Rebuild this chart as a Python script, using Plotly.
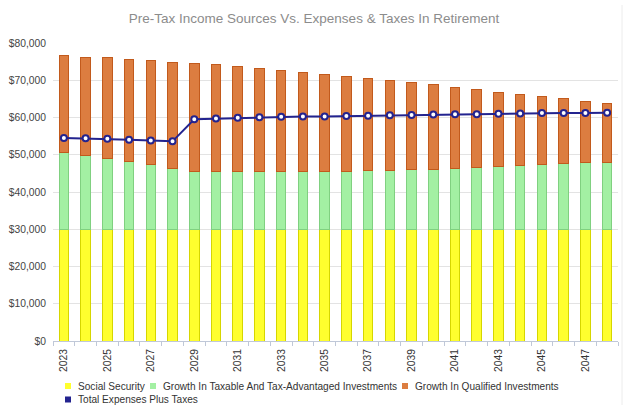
import plotly.graph_objects as go

years = list(range(2023, 2049))

social_security = [30000] * 26

taxable_growth = [20600, 19700, 19100, 18100, 17300, 16400, 15400, 15400, 15400, 15400,
                  15400, 15400, 15600, 15600, 15900, 15900, 16100, 16100, 16300, 16500,
                  16800, 17000, 17300, 17600, 17800, 18000]

bar_totals = [76700, 76200, 76100, 75600, 75400, 74900, 74600, 74200, 73600, 73100,
              72700, 72200, 71600, 71100, 70400, 70000, 69300, 68800, 68100, 67500,
              66800, 66300, 65700, 65000, 64400, 63700]

qualified_growth = [t - s - g for t, s, g in zip(bar_totals, social_security, taxable_growth)]

expenses_taxes = [54500, 54400, 54300, 54000, 53800, 53600, 59500, 59700, 59900, 60100,
                  60200, 60300, 60300, 60400, 60500, 60600, 60700, 60800, 60900, 60900,
                  61000, 61100, 61200, 61200, 61200, 61300]

y_ticks = list(range(0, 80001, 10000))
y_labels = ['$' + format(v, ',') for v in y_ticks]

names = ['Social Security', 'Growth In Taxable And Tax-Advantaged Investments',
         'Growth In Qualified Investments', 'Total Expenses Plus Taxes']
colors = ['#ffff2e', '#a3f0a3', '#dc7d40', '#23238f']
edges = ['#d6d600', '#80d080', '#c25a1c', '#23238f']

W, H = 628, 410
L, R, T, B = 53, 10, 43, 69
font = 'Liberation Sans, Arial, sans-serif'

fig = go.Figure()

for vals, i in [(social_security, 0), (taxable_growth, 1), (qualified_growth, 2)]:
    fig.add_trace(go.Bar(
        x=years, y=vals, name=names[i],
        marker=dict(color=colors[i], line=dict(color=edges[i], width=1)),
        width=0.44, showlegend=False
    ))

fig.add_trace(go.Scatter(
    x=years, y=expenses_taxes, name=names[3],
    mode='lines+markers',
    line=dict(color=colors[3], width=2),
    marker=dict(color='white', size=6, line=dict(color=colors[3], width=2)),
    showlegend=False
))

fig.update_layout(
    barmode='stack',
    width=W, height=H,
    margin=dict(l=L, r=R, t=T, b=B),
    paper_bgcolor='white', plot_bgcolor='white',
    font=dict(family=font, size=10.3, color='#333333'),
    title=dict(text='Pre-Tax Income Sources Vs. Expenses & Taxes In Retirement',
               x=0.5, xanchor='center', y=0.955, yanchor='middle',
               font=dict(size=13.5, color='#8c8c8c')),
    showlegend=False,
)

fig.update_xaxes(
    range=[2022.5, 2048.5], automargin=False,
    tickmode='array', tickvals=years[::2], ticktext=[str(y) for y in years[::2]],
    tickangle=-90, ticks='', showgrid=False, ticklabelstandoff=3,
    showline=True, linecolor='#c0c8d8', linewidth=1,
    tickfont=dict(size=10.3, color='#333333'),
    minor=dict(tick0=2022.5, dtick=1, ticks='outside', ticklen=4,
               tickcolor='#c0c8d8', showgrid=False),
)
fig.update_yaxes(
    range=[0, 80000], automargin=False,
    tickmode='array', tickvals=y_ticks, ticktext=y_labels,
    showgrid=True, gridcolor='#e3e3e3', gridwidth=1, zeroline=False,
    ticklabelstandoff=6,
    tickfont=dict(size=10.3, color='#444444'),
)


# hand-drawn legend (compact swatches like the original)
def px_x(px):
    return (px - L) / (W - L - R)


def px_y(py):
    return (H - B - py) / (H - T - B)


legend_pos = [(65, 386), (150, 386), (402, 386), (65, 399.5)]
for (lx, ly), name, col in zip(legend_pos, names, colors):
    fig.add_shape(type='rect', xref='paper', yref='paper',
                  x0=px_x(lx), x1=px_x(lx + 6), y0=px_y(ly + 3), y1=px_y(ly - 3),
                  fillcolor=col, line=dict(width=0))
    fig.add_annotation(xref='paper', yref='paper', x=px_x(lx + 10.5), y=px_y(ly),
                       xanchor='left', yanchor='middle', showarrow=False,
                       text=name, font=dict(family=font, size=10.1, color='#333333'))

fig.add_shape(type='line', xref='paper', yref='paper', x0=px_x(622), x1=px_x(622),
              y0=px_y(405), y1=px_y(5), line=dict(color='#ececec', width=1))

fig.write_html('out.html', config={'displayModeBar': False},
               post_script="document.body.style.margin='0';")
